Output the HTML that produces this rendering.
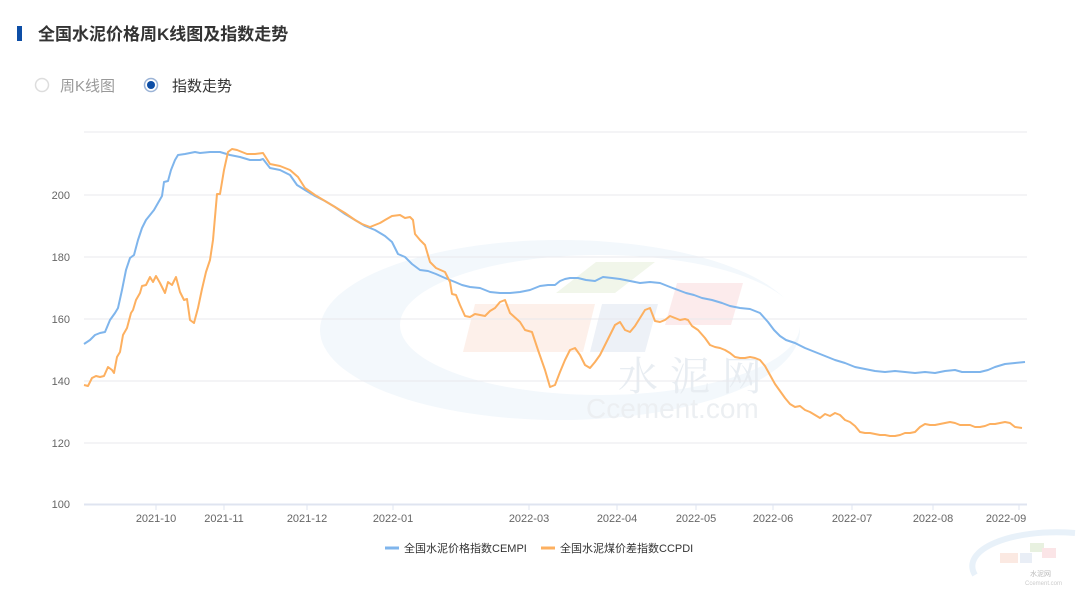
<!DOCTYPE html>
<html><head><meta charset="utf-8"><style>
body{margin:0;width:1080px;height:593px;background:#fff;overflow:hidden;font-family:"Liberation Sans","Noto Sans CJK SC",sans-serif}
</style></head><body>
<svg width="1080" height="593" xmlns="http://www.w3.org/2000/svg" font-family="Liberation Sans, Noto Sans CJK SC, sans-serif">
<rect x="17" y="26" width="5" height="15" fill="#0d4ea6"/>
<text x="38" y="40" font-size="17" font-weight="bold" fill="#333">全国水泥价格周K线图及指数走势</text>
<circle cx="42" cy="85" r="6.5" fill="none" stroke="#ddd" stroke-width="1.5"/>
<text x="60" y="91" font-size="15" fill="#999">周K线图</text>
<circle cx="151" cy="85" r="6.5" fill="none" stroke="#9bb3d6" stroke-width="1.5"/>
<circle cx="151" cy="85" r="4" fill="#0d4ea6"/>
<text x="172" y="91" font-size="15" fill="#333">指数走势</text>
<!-- watermark -->
<ellipse cx="560" cy="330" rx="240" ry="90" fill="#f3f8fc"/>
<ellipse cx="600" cy="325" rx="200" ry="70" fill="#fff"/>
<polygon points="556,293 596,262 655,262 615,293" fill="#f1f6ea"/>
<polygon points="463,352 475,304 595,304 583,352" fill="#fdf0ea"/>
<polygon points="590,352 602,304 658,304 645,352" fill="#edf1f7"/>
<polygon points="665,325 677,283 743,283 731,325" fill="#fcebec"/>
<text x="618" y="390" font-size="40" fill="#e8edf2" font-family="Noto Serif CJK SC, serif" letter-spacing="12">水泥网</text>
<text x="586" y="418" font-size="28" fill="#eceff2">Ccement.com</text>
<!-- grid -->
<g stroke="#e8e8ec" stroke-width="1">
<line x1="84" y1="132" x2="1027" y2="132"/><line x1="84" y1="195" x2="1027" y2="195"/>
<line x1="84" y1="257" x2="1027" y2="257"/><line x1="84" y1="319" x2="1027" y2="319"/>
<line x1="84" y1="381" x2="1027" y2="381"/><line x1="84" y1="443" x2="1027" y2="443"/>
</g>
<line x1="84" y1="504.5" x2="1027" y2="504.5" stroke="#dfe4f0" stroke-width="2"/>
<g stroke="#dfe4f0"><line x1="156" y1="504" x2="156" y2="510"/><line x1="224" y1="504" x2="224" y2="510"/><line x1="307" y1="504" x2="307" y2="510"/><line x1="393" y1="504" x2="393" y2="510"/><line x1="529" y1="504" x2="529" y2="510"/><line x1="617" y1="504" x2="617" y2="510"/><line x1="696" y1="504" x2="696" y2="510"/><line x1="773" y1="504" x2="773" y2="510"/><line x1="852" y1="504" x2="852" y2="510"/><line x1="933" y1="504" x2="933" y2="510"/><line x1="1019" y1="504" x2="1019" y2="510"/></g>
<g font-size="11" fill="#666" text-anchor="end">
<text x="70" y="199">200</text><text x="70" y="261">180</text><text x="70" y="323">160</text><text x="70" y="385">140</text><text x="70" y="447">120</text><text x="70" y="508">100</text>
</g>
<g font-size="11" fill="#666" text-anchor="middle">
<text x="156" y="522">2021-10</text><text x="224" y="522">2021-11</text><text x="307" y="522">2021-12</text><text x="393" y="522">2022-01</text><text x="529" y="522">2022-03</text><text x="617" y="522">2022-04</text><text x="696" y="522">2022-05</text><text x="773" y="522">2022-06</text><text x="852" y="522">2022-07</text><text x="933" y="522">2022-08</text><text x="1006" y="522">2022-09</text>
</g>
<polyline fill="none" stroke="#7fb5ec" stroke-width="2" stroke-linejoin="round" points="84,344 90,340 95,335 100,333 105,332 110,320 115,313 118,308 122,290 126,270 130,258 134,255 138,240 142,228 146,220 150,215 154,210 158,203 162,196 164,182 168,181 171,170 175,160 178,155 185,154 195,152 200,153 210,152 220,152 230,155 240,157 250,160 260,160 263,159 270,168 280,170 290,175 297,185 305,190 315,196 325,201 335,207 345,214 355,220 365,226 375,230 385,236 392,242 398,254 405,257 412,264 420,270 428,271 436,274 445,278 455,282 462,285 470,287 480,288 490,292 500,293 510,293 520,292 530,290 540,286 548,285 555,285 560,281 565,279 570,278 578,278 586,280 595,281 603,277 612,278 620,279 630,281 640,283 650,282 660,283 670,287 678,290 686,293 694,295 702,298 712,300 722,303 730,306 740,308 750,309 760,313 768,322 774,330 780,336 786,340 795,343 805,348 815,352 825,356 835,360 845,363 855,367 865,369 875,371 885,372 895,371 905,372 915,373 925,372 935,373 945,371 955,370 962,372 970,372 980,372 988,370 995,367 1005,364 1015,363 1025,362"/>
<polyline fill="none" stroke="#fdb060" stroke-width="2" stroke-linejoin="round" points="84,385 88,386 92,378 96,376 100,377 104,376 108,367 112,370 114,373 117,357 120,352 123,335 127,328 131,313 133,310 136,300 140,293 142,286 146,285 150,277 153,282 156,276 160,283 165,293 168,282 172,285 176,277 180,292 184,300 187,299 190,320 194,323 198,308 202,289 206,272 210,260 213,240 217,194 220,194 224,170 228,152 232,149 237,150 242,152 247,154 255,154 263,153 270,164 280,166 290,170 298,177 305,188 315,195 325,201 335,207 345,213 355,220 362,224 370,227 380,223 385,220 392,216 400,215 405,218 410,217 413,220 415,234 420,240 425,245 430,262 436,268 445,272 450,282 452,294 456,295 460,305 465,316 470,317 475,314 485,316 490,311 495,308 500,302 505,300 510,313 520,322 525,330 532,332 538,350 545,370 550,387 555,385 560,372 565,360 570,350 575,348 580,355 585,365 590,368 595,362 600,355 605,345 610,335 615,325 620,322 625,330 630,332 635,326 640,318 645,310 650,308 655,321 660,322 665,320 670,316 675,318 680,320 685,319 688,320 692,326 698,330 705,338 710,345 715,347 720,348 725,350 730,353 735,357 740,358 745,358 750,357 755,358 760,360 765,366 770,375 775,384 780,391 785,398 790,404 795,407 800,406 805,410 810,412 815,415 820,418 825,414 830,416 835,413 840,415 845,420 850,422 855,426 860,432 865,433 870,433 875,434 880,435 885,435 890,436 895,436 900,435 905,433 910,433 915,432 920,427 925,424 930,425 935,425 940,424 945,423 950,422 955,423 960,425 965,425 970,425 975,427 980,427 985,426 990,424 995,424 1000,423 1005,422 1010,423 1015,427 1022,428"/>
<line x1="385" y1="548" x2="399" y2="548" stroke="#7fb5ec" stroke-width="3"/>
<text x="404" y="552" font-size="11" fill="#333">全国水泥价格指数CEMPI</text>
<line x1="541" y1="548" x2="555" y2="548" stroke="#fdb060" stroke-width="3"/>
<text x="560" y="552" font-size="11" fill="#333">全国水泥煤价差指数CCPDI</text>
<!-- corner logo -->
<path d="M975,575 C960,550 1010,528 1075,533" fill="none" stroke="#e8f1f9" stroke-width="6"/>
<rect x="1000" y="553" width="18" height="10" fill="#fbe9e2"/><rect x="1020" y="553" width="12" height="10" fill="#e9eef6"/>
<rect x="1030" y="543" width="14" height="9" fill="#e8f1e0"/><rect x="1042" y="548" width="14" height="10" fill="#fbe5e7"/>
<text x="1030" y="576" font-size="7" fill="#bbb">水泥网</text>
<text x="1025" y="585" font-size="6" fill="#ccc">Ccement.com</text>
</svg>
</body></html>
